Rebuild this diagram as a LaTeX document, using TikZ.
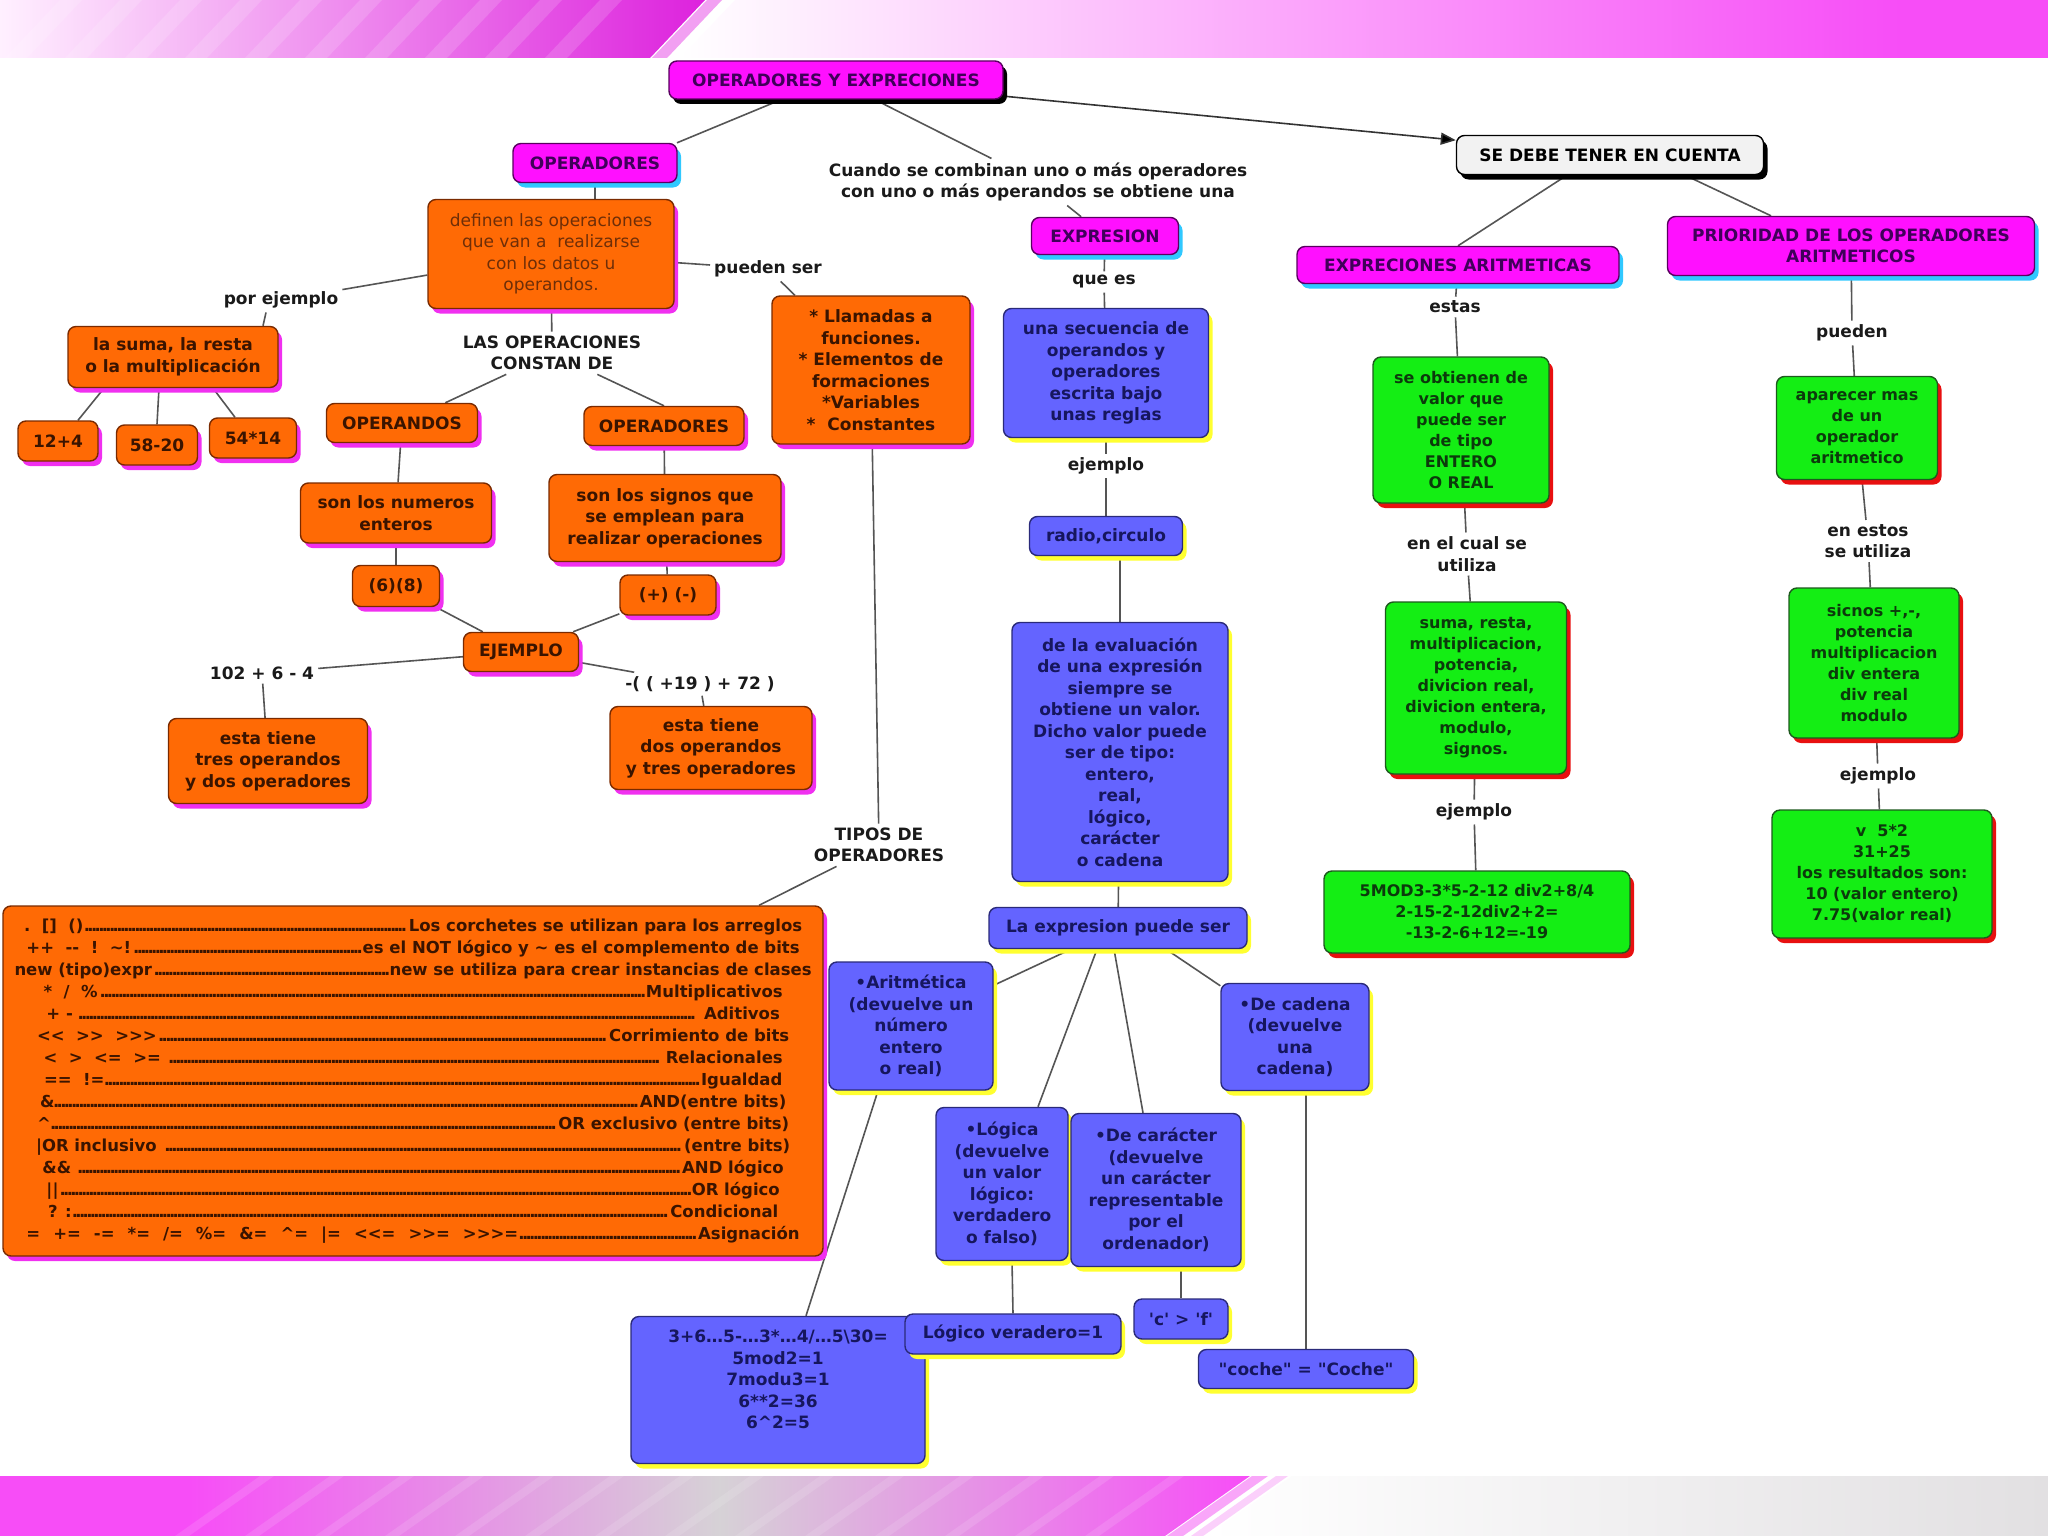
\documentclass[tikz,border=0pt]{standalone}
\usepackage{fontspec}
\setmainfont{DejaVu Sans}
\newfontfamily\mapfree{DejaVu Sans}
\usetikzlibrary{shadows,arrows.meta,backgrounds}
\newcommand{\oprow}[3]{\makebox[#1pt]{#2\leaders\hbox to 3.6pt{\hss.\hss}\hfill#3}}

\begin{document}
\begin{tikzpicture}[x=1pt,y=-1pt,
  every node/.style={font=\mapfree\bfseries\fontsize{17}{21.5}\selectfont},
  sz/.style 2 args={minimum width=#1pt,minimum height=#2pt},
  castshadow/.style={general shadow={fill=#1,shadow xshift=4pt,shadow yshift=-5pt}},
  cbox/.style={draw,rounded corners=8pt,line width=1.4pt,align=center,inner sep=3pt},
  magbox/.style={cbox,fill=magfill,draw=magline,text=magtext,castshadow=#1},
  magbox/.default=cyanshade,
  orbox/.style={cbox,fill=orfill,draw=orline,text=ortext,castshadow=orshade},
  blubox/.style={cbox,fill=blufill,draw=bluline,text=blutext,castshadow=blushade},
  grbox/.style={cbox,fill=grfill,draw=grline,text=grtext,castshadow=grshade,
    font=\mapfree\bfseries\fontsize{16}{21}\selectfont},
  lbl/.style={text=lbltext,align=center,inner sep=4pt},
  conn/.style={draw=linegrey,line width=1.6pt}]
\definecolor{bandmag}{HTML}{F74DF7}
\definecolor{bandlight}{HTML}{FFF0FF}
\definecolor{banddark}{HTML}{DD22DD}
\definecolor{bandgrey}{HTML}{D6D2D6}
\definecolor{stripeA}{HTML}{F2A0F2}
\definecolor{stripeB}{HTML}{F9A6F9}
\definecolor{stripeC}{HTML}{FBD0FB}
\definecolor{palegrey}{HTML}{E2E0E2}
\definecolor{magfill}{HTML}{FF10FF}
\definecolor{magline}{HTML}{5A0060}
\definecolor{magtext}{HTML}{40005A}
\definecolor{cyanshade}{HTML}{30C8FF}
\definecolor{orfill}{HTML}{FF6A05}
\definecolor{orline}{HTML}{7A2A00}
\definecolor{ortext}{HTML}{3A1400}
\definecolor{orshade}{HTML}{F030F0}
\definecolor{blufill}{HTML}{6464FF}
\definecolor{bluline}{HTML}{2A2A7A}
\definecolor{blutext}{HTML}{16165E}
\definecolor{blushade}{HTML}{FFFF30}
\definecolor{grfill}{HTML}{14EE14}
\definecolor{grline}{HTML}{1E5A1E}
\definecolor{grtext}{HTML}{0C3A0C}
\definecolor{grshade}{HTML}{E81010}
\definecolor{greyfill}{HTML}{F2F2F2}
\definecolor{lbltext}{HTML}{1A1A1A}
\definecolor{linegrey}{HTML}{555555}
\definecolor{brownish}{HTML}{6E2E08}
\useasboundingbox (0,0) rectangle (2048,1536);
\begin{pgfonlayer}{background}
\fill[white] (0,0) rectangle (2048,1536);
\end{pgfonlayer}

% top band
\shade[left color=bandlight,right color=banddark] (0,0) -- (705,0) -- (650,58) -- (0,58) -- cycle;
\foreach \s in {60,120,...,600}
  \fill[white,opacity=0.15] (\s,0) -- ++(22,0) -- ++(-55,58) -- ++(-22,0) -- cycle;
\fill[stripeA] (707,0) -- (722,0) -- (667,58) -- (652,58) -- cycle;
\shade[left color=white,right color=bandmag] (735,0) -- (1900,0) -- (1900,58) -- (680,58) -- cycle;
\fill[bandmag] (1899,0) rectangle (2048,58);

% bottom band
\fill[bandmag] (0,1476) rectangle (191,1536);
\shade[left color=bandmag,right color=bandgrey] (190,1476) rectangle (720,1536);
\shade[left color=bandgrey,right color=bandmag] (719,1476) -- (1250,1476) -- (1165,1536) -- (719,1536) -- cycle;
\foreach \s in {260,330,...,1200}
  \fill[white,opacity=0.12] (\s,1476) -- ++(14,0) -- ++(-85,60) -- ++(-14,0) -- cycle;
\fill[stripeB] (1252,1476) -- (1268,1476) -- (1183,1536) -- (1167,1536) -- cycle;
\fill[stripeC] (1276,1476) -- (1288,1476) -- (1203,1536) -- (1191,1536) -- cycle;
\shade[left color=white,right color=palegrey] (1292,1476) -- (2048,1476) -- (2048,1536) -- (1207,1536) -- cycle;

% centre column
\node[magbox=black,sz={334}{38}] (title) at (836,80) {OPERADORES Y EXPRECIONES};
\node[lbl] (cuando) at (1038,182) {Cuando se combinan uno o más operadores\\con uno o más operandos se obtiene una};
\node[cbox,fill=greyfill,draw=black,text=black,castshadow=black,sz={307}{39}] (sedebe) at (1610,155) {SE DEBE TENER EN CUENTA};
\node[magbox,sz={147}{37}] (expresion) at (1105,236) {EXPRESION};
\node[lbl] (quees) at (1104,282) {que es};
\node[blubox,sz={205}{129}] (secuencia) at (1106,373) {una secuencia de\\operandos y\\operadores\\escrita bajo\\unas reglas};
\node[lbl] (ejemplo1) at (1106,466) {ejemplo};
\node[blubox,sz={153}{39}] (radio) at (1106,536) {radio,circulo};
\node[blubox,sz={216}{259}] (evaluacion) at (1120,752) {de la evaluación\\de una expresión\\siempre se\\obtiene un valor.\\Dicho valor puede\\ser de tipo:\\entero,\\real,\\lógico,\\carácter\\o cadena};
\node[blubox,sz={258}{41}] (puedeser) at (1118,928) {La expresion puede ser};
\node[blubox,sz={164}{128}] (arit) at (911,1026) {•Aritmética\\(devuelve un\\número\\entero\\o real)};
\node[blubox,sz={132}{153}] (logica) at (1002,1184) {•Lógica\\(devuelve\\un valor\\lógico:\\verdadero\\o falso)};
\node[blubox,sz={170}{153}] (caracter) at (1156,1190) {•De carácter\\(devuelve\\un carácter\\representable\\por el\\ordenador)};
\node[blubox,sz={148}{107}] (cadena) at (1295,1037) {•De cadena\\(devuelve\\una\\cadena)};
\node[blubox,sz={294}{147}] (ejarit) at (778,1390) {3+6…5-…3*…4/…5\textbackslash 30=\\5mod2=1\\7modu3=1\\6**2=36\\6\textasciicircum 2=5\\ \mbox{}};
\node[blubox,sz={216}{40}] (logver) at (1013,1334) {Lógico veradero=1};
\node[blubox,sz={94}{40}] (cf) at (1181,1319) {'c' > 'f'};
\node[blubox,sz={215}{39}] (coche) at (1306,1369) {"coche" = "Coche"};

% left column
\node[magbox,sz={164}{39}] (opr) at (595,163) {OPERADORES};
\node[orbox,sz={246}{109},text=brownish,font=\mapfree\mdseries\fontsize{17}{21.5}\selectfont] (definen) at (551,254) {definen las operaciones\\que van a\ \ realizarse\\con los datos u\\operandos.};
\node[lbl] (porej) at (281,300) {por ejemplo};
\node[lbl] (pueden) at (768,269) {pueden ser};
\node[orbox,sz={210}{61}] (suma) at (173,357) {la suma, la resta\\o la multiplicación};
\foreach \nm/\txt/\px/\py/\w in {n12/12+4/58/441/80,n58/58-20/157/445/81,n54/54*14/253/438/87}
  {\node[orbox,sz={\w}{40}] (\nm) at (\px,\py) {\txt};}
\node[lbl] (lasop) at (552,353) {LAS OPERACIONES\\CONSTAN DE};
\node[orbox,sz={151}{39}] (operandos) at (402,423) {OPERANDOS};
\node[orbox,sz={160}{39}] (operadores2) at (664,426) {OPERADORES};
\node[orbox,sz={191}{60}] (numeros) at (396,513) {son los numeros\\enteros};
\node[orbox,sz={232}{87}] (signos) at (665,518) {son los signos que\\se emplean para\\realizar operaciones};
\node[orbox,sz={87}{41}] (seis) at (396,586) {(6)(8)};
\node[orbox,sz={96}{40}] (masmenos) at (668,595) {(+) (-)};
\node[orbox,sz={115}{39}] (ejemplo) at (521,652) {EJEMPLO};
\node[lbl] (lbl102) at (262,673) {102 + 6 - 4};
\node[lbl] (lbl19) at (700,684) {-( ( +19 ) + 72 )};
\node[orbox,sz={199}{85}] (tres) at (268,761) {esta tiene\\tres operandos\\y dos operadores};
\node[orbox,sz={202}{83}] (dos) at (711,748) {esta tiene\\dos operandos\\y tres operadores};
\node[orbox,sz={198}{148}] (llamadas) at (871,370) {* Llamadas a\\funciones.\\* Elementos de\\formaciones\\*Variables\\*\ \ Constantes};
\node[lbl] (tipos) at (879,845) {TIPOS DE\\OPERADORES};
\node[orbox,sz={820}{350},font=\mapfree\bfseries\fontsize{16.5}{22}\selectfont] (tabla) at (413,1081) {%
\oprow{778}{.\ \ []\ \ ()}{Los corchetes se utilizan para los arreglos}\\
\oprow{773}{++\ \ -{}-\ \ !\ \ \textasciitilde!}{es el NOT lógico y \textasciitilde\ es el complemento de bits}\\
\oprow{797}{new (tipo)expr}{new se utiliza para crear instancias de clases}\\
\oprow{739}{*\ \ /\ \ \%}{Multiplicativos}\\
\oprow{733}{+ - }{ Aditivos}\\
\oprow{752}{<{}<\ \ >{}>\ \ >{}>{}>}{Corrimiento de bits}\\
\oprow{739}{<\ \ >\ \ <=\ \ >= }{ Relacionales}\\
\oprow{738}{==\ \ !=}{Igualdad}\\
\oprow{746}{\&}{AND(entre bits)}\\
\oprow{752}{\textasciicircum}{OR exclusivo (entre bits)}\\
\oprow{754}{|OR inclusivo }{(entre bits)}\\
\oprow{741}{\&\& }{AND lógico}\\
\oprow{733}{||}{OR lógico}\\
\oprow{730}{? :}{Condicional}\\
\oprow{773}{=\hspace{13pt}+=\hspace{13pt}-=\hspace{13pt}*=\hspace{13pt}/=\hspace{13pt}\%=\hspace{13pt}\&=\hspace{13pt}\textasciicircum=\hspace{13pt}|=\hspace{13pt}<{}<=\hspace{13pt}>{}>=\hspace{13pt}>{}>{}>=}{Asignación}};

% right column
\node[magbox,sz={322}{37}] (exarit) at (1458,265) {EXPRECIONES ARITMETICAS};
\node[magbox,sz={367}{59}] (prioridad) at (1851,246) {PRIORIDAD DE LOS OPERADORES\\ARITMETICOS};
\node[lbl] (estas) at (1455,307) {estas};
\node[lbl] (pueden2) at (1852,333) {pueden};
\node[grbox,sz={176}{146}] (obtienen) at (1461,430) {se obtienen de\\valor que\\puede ser\\de tipo\\ENTERO\\O REAL};
\node[grbox,sz={161}{103}] (aparecer) at (1857,428) {aparecer mas\\de un\\operador\\aritmetico};
\node[lbl] (encual) at (1467,554) {en el cual se\\utiliza};
\node[lbl] (enestos) at (1868,541) {en estos\\se utiliza};
\node[grbox,sz={181}{172}] (sumaresta) at (1476,688) {suma, resta,\\multiplicacion,\\potencia,\\divicion real,\\divicion entera,\\modulo,\\signos.};
\node[grbox,sz={170}{150}] (sicnos) at (1874,663) {sicnos +,-,\\potencia\\multiplicacion\\div entera\\div real\\modulo};
\node[lbl] (ejemplo2) at (1474,812) {ejemplo};
\node[lbl] (ejemplo3) at (1878,776) {ejemplo};
\node[grbox,sz={306}{82}] (mod) at (1477,912) {5MOD3-3*5-2-12 div2+8/4\\2-15-2-12div2+2=\\-13-2-6+12=-19};
\node[grbox,sz={220}{128}] (resultados) at (1882,874) {v\ \ 5*2\\31+25\\los resultados son:\\10 (valor entero)\\7.75(valor real)};

\begin{pgfonlayer}{background}
\foreach \a/\b in {title/cuando,cuando/expresion,definen/porej,definen/pueden,pueden/llamadas,
    definen/lasop,lasop/operandos,operandos/numeros,operadores2/signos,numeros/seis,
    signos/masmenos,seis/ejemplo,masmenos/ejemplo,ejemplo/lbl102,ejemplo/lbl19,
    lbl102/tres,lbl19/dos,llamadas/tipos,tipos/tabla,expresion/quees,quees/secuencia,
    secuencia/ejemplo1,ejemplo1/radio,evaluacion/puedeser,exarit/estas,estas/obtienen,
    obtienen/encual,encual/sumaresta,sumaresta/ejemplo2,ejemplo2/mod,prioridad/pueden2,
    pueden2/aparecer,aparecer/enestos,enestos/sicnos,sicnos/ejemplo3,ejemplo3/resultados}
  \draw[conn] (\a) -- (\b);
\draw[conn,draw=black!80,-{Triangle[length=15pt,width=12pt,fill=black]}] (title) -- (sedebe);
\draw[conn] ([xshift=-55pt]title.south) -- ([xshift=82pt]opr.north);
\draw[conn] ([xshift=-43pt]sedebe.south) -- (exarit.north);
\draw[conn] ([xshift=75pt]sedebe.south) -- ([xshift=-80pt]prioridad.north);
\draw[conn] (opr.south) -- (opr.south |- definen.north);
\draw[conn] ([xshift=-15pt]porej.south) -- ([xshift=90pt]suma.north);
\draw[conn] ([xshift=-69pt]suma.south) -- ([xshift=20pt]n12.north);
\draw[conn] ([xshift=-14pt]suma.south) -- (n58.north);
\draw[conn] ([xshift=40pt]suma.south) -- ([xshift=-18pt]n54.north);
\draw[conn] (lasop) -- (operadores2.north);
\draw[conn] (radio.south -| evaluacion.north) -- (evaluacion.north);
\draw[conn] ([xshift=-47pt]puedeser.south) -- ([yshift=-24pt]arit.north east);
\draw[conn] ([xshift=-21pt]puedeser.south) -- ([xshift=36pt]logica.north);
\draw[conn] ([xshift=-4pt]puedeser.south) -- ([xshift=-13pt]caracter.north);
\draw[conn] ([xshift=48pt]puedeser.south) -- ([yshift=-3pt]cadena.north west);
\draw[conn] ([xshift=-33pt]arit.south) -- ([xshift=28pt]ejarit.north);
\draw[conn] ([xshift=10pt]logica.south) -- (logver.north);
\draw[conn] (caracter.south -| cf.north) -- (cf.north);
\draw[conn] (cadena.south -| coche.north) -- (coche.north);
\end{pgfonlayer}
\end{tikzpicture}
\end{document}
